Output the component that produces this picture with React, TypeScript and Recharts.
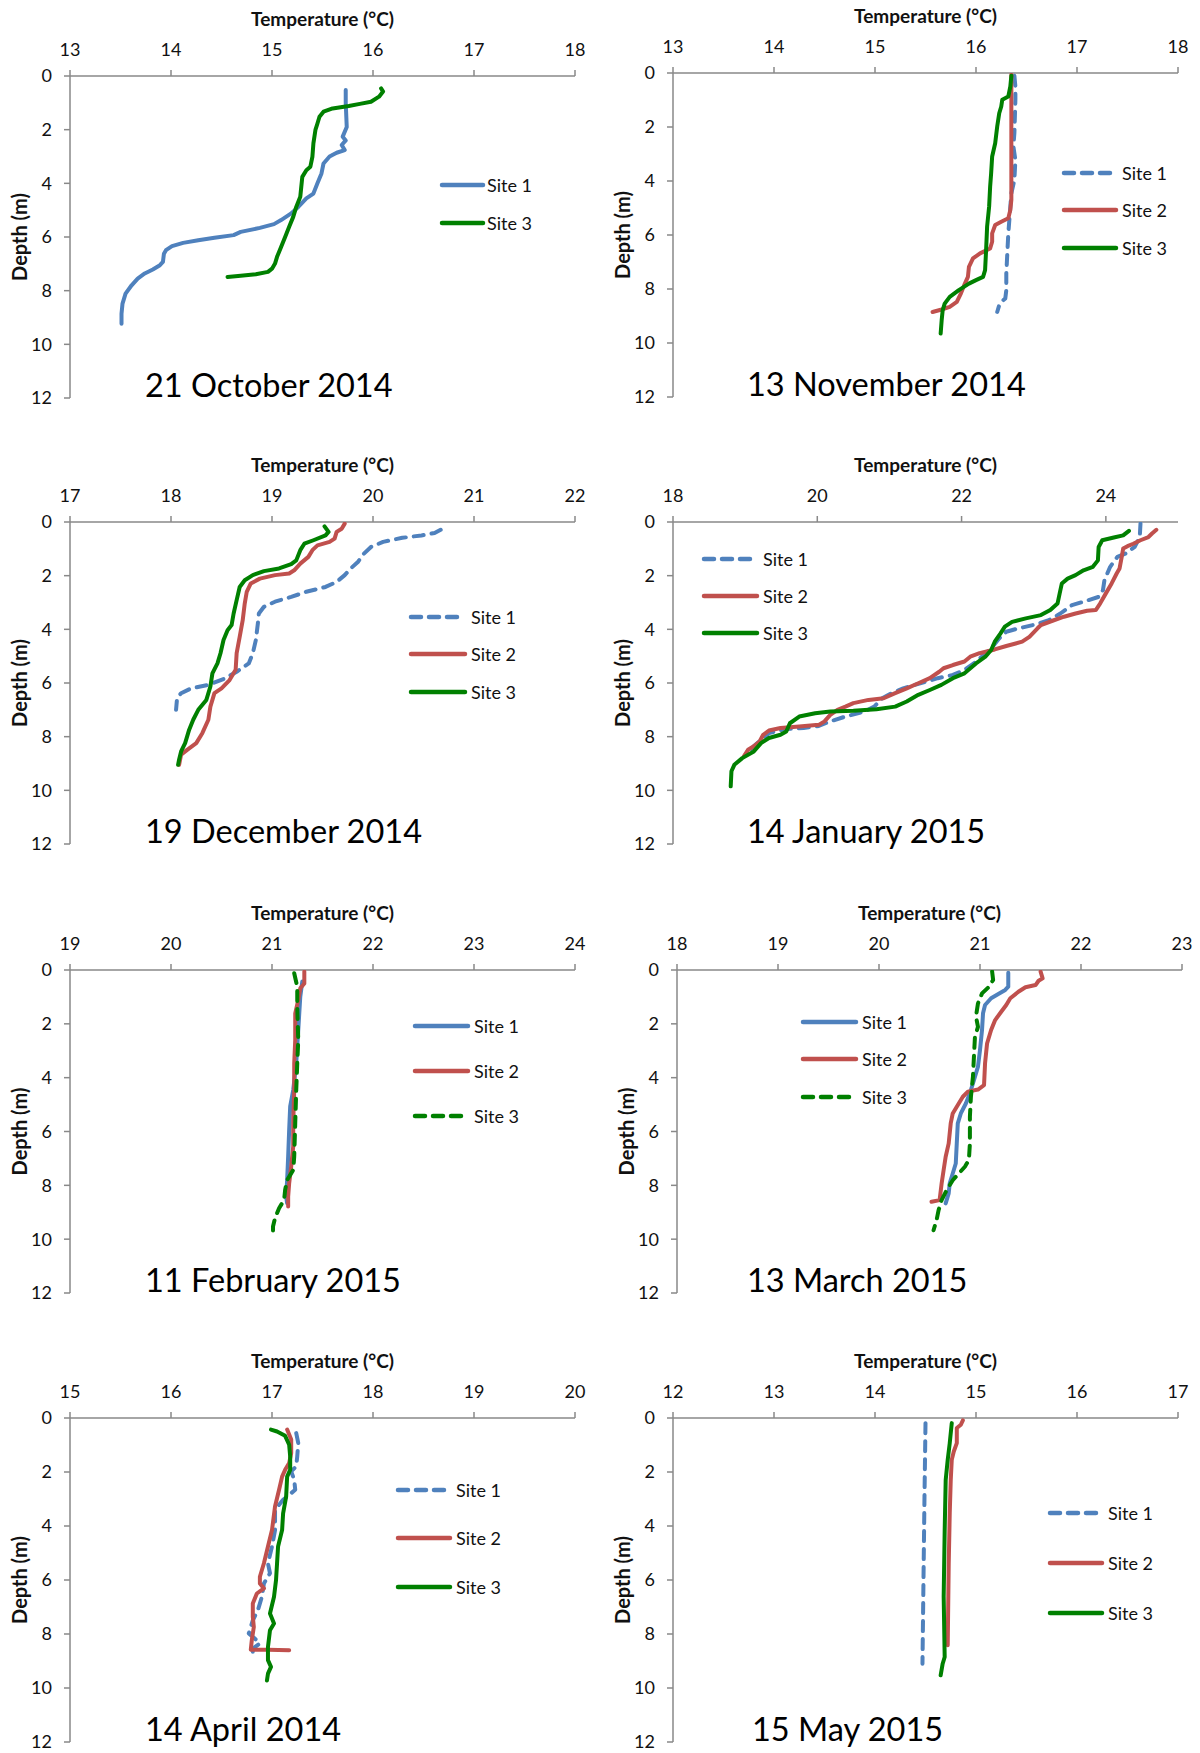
import React from 'react';
import { ScatterChart, Scatter, XAxis, YAxis, Label } from 'recharts';

// each reading is [temperature °C, depth m]
type Reading = [number, number];

const depthTicks = [0, 2, 4, 6, 8, 10, 12];

// 21 October 2014
const octTicks = [13, 14, 15, 16, 17, 18];
const oct21Site1: Reading[] = [
  [15.73, 0.52], [15.73, 1.0], [15.74, 1.9], [15.7, 2.26], [15.73, 2.4], [15.69, 2.57], [15.72, 2.76],
  [15.64, 2.86], [15.57, 3.0], [15.51, 3.26], [15.49, 3.63], [15.45, 4.0], [15.41, 4.38], [15.34, 4.56],
  [15.26, 4.88], [15.19, 5.12], [15.09, 5.37], [15.02, 5.52], [14.88, 5.66], [14.69, 5.81], [14.62, 5.93],
  [14.43, 6.03], [14.27, 6.12], [14.12, 6.22], [14.01, 6.34], [13.95, 6.49], [13.93, 6.62], [13.92, 6.93],
  [13.89, 7.05], [13.82, 7.21], [13.74, 7.36], [13.67, 7.55], [13.61, 7.8], [13.55, 8.11], [13.52, 8.48],
  [13.51, 8.86], [13.51, 9.23],
];
const oct21Site3: Reading[] = [
  [16.08, 0.46], [16.1, 0.58], [16.06, 0.77], [15.98, 0.96], [15.87, 1.04], [15.76, 1.12], [15.6, 1.21],
  [15.51, 1.33], [15.47, 1.52], [15.45, 1.77], [15.43, 2.01], [15.41, 2.51], [15.4, 3.01], [15.38, 3.38],
  [15.34, 3.51], [15.3, 3.76], [15.29, 4.13], [15.28, 4.5], [15.24, 4.88], [15.21, 5.25], [15.17, 5.62],
  [15.13, 6.0], [15.09, 6.37], [15.05, 6.74], [15.03, 6.99], [15.0, 7.18], [14.96, 7.3], [14.84, 7.39],
  [14.69, 7.44], [14.56, 7.49],
];

// 13 November 2014
const novTicks = [13, 14, 15, 16, 17, 18];
const nov13Site1: Reading[] = [
  [16.38, 0.1], [16.39, 0.5], [16.39, 0.99], [16.38, 2.23], [16.37, 2.72], [16.39, 3.22], [16.38, 3.96],
  [16.35, 4.46], [16.34, 4.95], [16.33, 5.45], [16.32, 5.94], [16.31, 6.68], [16.3, 7.43], [16.3, 8.04],
  [16.29, 8.35], [16.25, 8.48], [16.23, 8.6], [16.21, 8.85],
];
const nov13Site2: Reading[] = [
  [16.35, 0.06], [16.35, 0.5], [16.35, 0.99], [16.35, 2.23], [16.35, 3.47], [16.35, 4.7], [16.34, 5.07],
  [16.32, 5.38], [16.25, 5.51], [16.19, 5.63], [16.16, 5.94], [16.16, 6.25], [16.14, 6.5], [16.04, 6.68],
  [15.97, 6.87], [15.93, 7.18], [15.92, 7.55], [15.89, 7.8], [15.85, 8.17], [15.81, 8.48], [15.74, 8.66],
  [15.66, 8.76], [15.57, 8.85],
];
const nov13Site3: Reading[] = [
  [16.35, 0.1], [16.34, 0.5], [16.32, 0.87], [16.26, 0.99], [16.25, 1.24], [16.23, 1.49], [16.21, 1.98],
  [16.19, 2.6], [16.16, 3.09], [16.15, 3.71], [16.14, 4.21], [16.13, 4.95], [16.11, 5.69], [16.1, 6.56],
  [16.09, 7.3], [16.07, 7.55], [16.0, 7.67], [15.93, 7.8], [15.83, 8.04], [15.74, 8.29], [15.69, 8.54],
  [15.67, 8.79], [15.66, 9.16], [15.65, 9.65],
];

// 19 December 2014
const decTicks = [17, 18, 19, 20, 21, 22];
const dec19Site1: Reading[] = [
  [20.67, 0.29], [20.61, 0.41], [20.48, 0.5], [20.29, 0.59], [20.1, 0.74], [19.98, 0.93], [19.91, 1.18],
  [19.85, 1.49], [19.78, 1.73], [19.72, 1.98], [19.64, 2.23], [19.53, 2.42], [19.34, 2.6], [19.19, 2.79],
  [19.03, 2.97], [18.92, 3.16], [18.87, 3.41], [18.86, 3.78], [18.84, 4.4], [18.81, 4.89], [18.77, 5.27],
  [18.65, 5.58], [18.54, 5.82], [18.37, 6.07], [18.2, 6.2], [18.1, 6.38], [18.06, 6.57], [18.05, 7.0],
];
const dec19Site2: Reading[] = [
  [19.72, 0.06], [19.69, 0.25], [19.64, 0.37], [19.62, 0.62], [19.57, 0.74], [19.45, 0.87], [19.4, 1.05],
  [19.36, 1.3], [19.28, 1.55], [19.22, 1.8], [19.17, 1.92], [19.03, 1.98], [18.88, 2.11], [18.79, 2.29],
  [18.75, 2.6], [18.73, 3.04], [18.71, 3.66], [18.68, 4.28], [18.65, 4.89], [18.64, 5.51], [18.58, 5.89],
  [18.5, 6.2], [18.43, 6.38], [18.39, 6.88], [18.37, 7.37], [18.31, 7.87], [18.25, 8.24], [18.16, 8.49],
  [18.1, 8.67], [18.08, 9.05],
];
const dec19Site3: Reading[] = [
  [19.52, 0.16], [19.56, 0.37], [19.53, 0.5], [19.41, 0.68], [19.32, 0.81], [19.28, 1.05], [19.24, 1.43],
  [19.19, 1.57], [19.07, 1.73], [18.92, 1.83], [18.81, 1.98], [18.73, 2.17], [18.68, 2.42], [18.65, 2.91],
  [18.62, 3.41], [18.6, 3.84], [18.56, 4.03], [18.52, 4.4], [18.49, 4.89], [18.46, 5.27], [18.41, 5.64],
  [18.39, 6.13], [18.35, 6.63], [18.27, 7.0], [18.22, 7.37], [18.18, 7.74], [18.14, 8.24], [18.1, 8.55],
  [18.08, 8.86], [18.07, 9.05],
];

// 14 January 2015
const janTicks = [18, 20, 22, 24];
const jan14Site1: Reading[] = [
  [24.48, 0.06], [24.47, 0.56], [24.4, 0.93], [24.27, 1.18], [24.16, 1.3], [24.06, 1.67], [23.98, 2.17],
  [23.96, 2.54], [23.9, 2.79], [23.69, 2.97], [23.53, 3.1], [23.37, 3.41], [23.21, 3.66], [22.99, 3.84],
  [22.78, 3.97], [22.62, 4.09], [22.52, 4.34], [22.41, 4.71], [22.28, 5.02], [22.17, 5.27], [22.04, 5.51],
  [21.88, 5.7], [21.67, 5.82], [21.51, 5.95], [21.35, 6.07], [21.19, 6.2], [21.03, 6.38], [20.9, 6.57],
  [20.79, 6.88], [20.66, 7.06], [20.39, 7.25], [20.18, 7.43], [20.02, 7.6], [19.81, 7.68], [19.54, 7.72],
  [19.33, 7.87], [19.22, 8.12], [19.12, 8.36], [19.04, 8.61],
];
const jan14Site2: Reading[] = [
  [24.7, 0.29], [24.64, 0.43], [24.59, 0.56], [24.48, 0.68], [24.38, 0.81], [24.3, 0.9], [24.24, 0.99],
  [24.22, 1.3], [24.19, 1.73], [24.15, 1.92], [24.08, 2.29], [24.0, 2.66], [23.92, 3.04], [23.86, 3.28],
  [23.74, 3.31], [23.58, 3.41], [23.42, 3.53], [23.26, 3.68], [23.1, 3.84], [23.05, 3.97], [22.94, 4.28],
  [22.84, 4.46], [22.62, 4.62], [22.46, 4.75], [22.25, 4.89], [22.12, 5.02], [22.04, 5.2], [21.88, 5.33],
  [21.75, 5.45], [21.69, 5.58], [21.56, 5.82], [21.4, 6.01], [21.24, 6.2], [21.08, 6.38], [20.92, 6.57],
  [20.71, 6.63], [20.5, 6.75], [20.39, 6.88], [20.28, 7.0], [20.18, 7.19], [20.1, 7.43], [20.02, 7.56],
  [19.75, 7.62], [19.49, 7.68], [19.33, 7.77], [19.25, 7.93], [19.2, 8.18], [19.12, 8.36], [19.04, 8.49],
  [18.98, 8.74],
];
const jan14Site3: Reading[] = [
  [24.32, 0.33], [24.24, 0.5], [24.11, 0.58], [23.95, 0.68], [23.9, 0.93], [23.89, 1.43], [23.82, 1.67],
  [23.69, 1.8], [23.58, 1.98], [23.47, 2.11], [23.39, 2.29], [23.36, 2.66], [23.33, 3.04], [23.23, 3.28],
  [23.1, 3.47], [22.89, 3.59], [22.7, 3.72], [22.6, 3.9], [22.54, 4.15], [22.46, 4.46], [22.41, 4.77],
  [22.33, 5.02], [22.2, 5.27], [22.04, 5.64], [21.88, 5.82], [21.72, 6.07], [21.56, 6.26], [21.4, 6.44],
  [21.24, 6.69], [21.08, 6.88], [20.82, 6.98], [20.5, 7.03], [20.18, 7.06], [19.97, 7.13], [19.75, 7.25],
  [19.62, 7.5], [19.57, 7.81], [19.49, 7.93], [19.33, 8.05], [19.22, 8.24], [19.12, 8.55], [18.96, 8.8],
  [18.85, 9.05], [18.81, 9.29], [18.8, 9.85],
];

// 11 February 2015
const febTicks = [19, 20, 21, 22, 23, 24];
const feb11Site1: Reading[] = [
  [21.3, 0.43], [21.28, 0.99], [21.26, 2.23], [21.24, 3.47], [21.21, 4.46], [21.18, 5.07], [21.17, 5.94],
  [21.16, 6.93], [21.15, 7.8], [21.14, 8.42], [21.15, 8.66],
];
const feb11Site2: Reading[] = [
  [21.32, 0.06], [21.32, 0.5], [21.28, 0.68], [21.26, 1.11], [21.23, 1.61], [21.23, 2.6], [21.22, 3.47],
  [21.22, 4.46], [21.21, 5.69], [21.21, 6.56], [21.19, 7.3], [21.17, 7.92], [21.16, 8.42], [21.16, 8.79],
];
const feb11Site3: Reading[] = [
  [21.22, 0.12], [21.25, 0.62], [21.25, 1.36], [21.26, 2.6], [21.25, 3.47], [21.24, 4.46], [21.23, 5.69],
  [21.22, 6.93], [21.21, 7.43], [21.15, 7.8], [21.13, 8.17], [21.12, 8.54], [21.07, 8.85], [21.03, 9.22],
  [21.01, 9.53], [21.01, 9.9],
];

// 13 March 2015
const marTicks = [18, 19, 20, 21, 22, 23];
const mar13Site1: Reading[] = [
  [21.28, 0.1], [21.28, 0.62], [21.25, 0.74], [21.19, 0.87], [21.11, 1.05], [21.05, 1.3], [21.03, 1.61],
  [21.02, 2.23], [21.0, 2.97], [20.98, 3.59], [20.94, 4.09], [20.9, 4.58], [20.86, 4.96], [20.81, 5.33],
  [20.78, 5.7], [20.77, 6.44], [20.76, 7.19], [20.73, 7.56], [20.7, 7.93], [20.69, 8.3], [20.66, 8.67],
];
const mar13Site2: Reading[] = [
  [21.6, 0.06], [21.62, 0.31], [21.58, 0.4], [21.55, 0.56], [21.45, 0.64], [21.38, 0.81], [21.3, 1.05],
  [21.26, 1.3], [21.21, 1.55], [21.15, 1.86], [21.11, 2.23], [21.07, 2.73], [21.05, 3.47], [21.04, 4.28],
  [20.98, 4.44], [20.88, 4.52], [20.83, 4.71], [20.77, 5.08], [20.73, 5.33], [20.71, 5.7], [20.69, 6.44],
  [20.66, 6.94], [20.64, 7.43], [20.62, 7.93], [20.6, 8.55], [20.52, 8.61],
];
const mar13Site3: Reading[] = [
  [21.12, 0.06], [21.13, 0.37], [21.09, 0.62], [21.02, 0.87], [20.98, 1.24], [20.96, 1.73], [20.98, 2.11],
  [20.95, 2.48], [20.94, 3.22], [20.93, 3.97], [20.91, 4.71], [20.9, 5.45], [20.9, 6.44], [20.89, 7.06],
  [20.85, 7.31], [20.79, 7.56], [20.73, 7.81], [20.67, 8.18], [20.62, 8.55], [20.59, 8.92], [20.57, 9.29],
  [20.54, 9.67],
];

// 14 April 2014
const aprTicks = [15, 16, 17, 18, 19, 20];
const apr14Site1: Reading[] = [
  [17.24, 0.56], [17.26, 0.93], [17.25, 1.42], [17.24, 1.79], [17.19, 1.98], [17.22, 2.29], [17.23, 2.66],
  [17.11, 3.03], [17.03, 3.4], [17.03, 4.15], [17.0, 4.76], [16.96, 5.38], [16.98, 5.75], [16.92, 6.13],
  [16.9, 6.62], [16.86, 7.12], [16.81, 7.49], [16.79, 7.74], [16.77, 7.98], [16.83, 8.17], [16.88, 8.35],
  [16.81, 8.54], [16.81, 8.73],
];
const apr14Site2: Reading[] = [
  [17.15, 0.43], [17.19, 0.8], [17.19, 1.3], [17.17, 1.67], [17.13, 1.92], [17.1, 2.17], [17.07, 2.66],
  [17.03, 3.28], [17.0, 4.15], [16.96, 4.76], [16.92, 5.38], [16.88, 5.88], [16.88, 6.13], [16.92, 6.31],
  [16.85, 6.5], [16.81, 6.87], [16.81, 7.36], [16.82, 7.74], [16.8, 8.23], [16.79, 8.58], [16.96, 8.58],
  [17.17, 8.6],
];
const apr14Site3: Reading[] = [
  [16.99, 0.43], [17.05, 0.5], [17.13, 0.66], [17.17, 0.99], [17.18, 1.42], [17.18, 1.92], [17.15, 2.17],
  [17.14, 2.91], [17.11, 3.53], [17.1, 4.15], [17.06, 4.76], [17.05, 5.38], [17.04, 6.0], [17.02, 6.62],
  [16.98, 7.24], [17.02, 7.61], [16.98, 7.86], [16.96, 8.48], [16.96, 8.97], [16.99, 9.22], [16.96, 9.47],
  [16.95, 9.72],
];

// 15 May 2015
const mayTicks = [12, 13, 14, 15, 16, 17];
const may15Site1: Reading[] = [[14.5, 0.19], [14.49, 2.91], [14.48, 6.0], [14.47, 9.1]];
const may15Site2: Reading[] = [
  [14.87, 0.09], [14.85, 0.25], [14.81, 0.37], [14.81, 0.93], [14.78, 1.24], [14.76, 1.55], [14.75, 2.29],
  [14.74, 3.53], [14.73, 5.38], [14.72, 8.42],
];
const may15Site3: Reading[] = [
  [14.76, 0.19], [14.74, 0.93], [14.72, 1.55], [14.7, 2.29], [14.69, 4.15], [14.68, 6.62], [14.69, 8.85],
  [14.67, 9.1], [14.65, 9.53],
];

const FONT = 'Lato, "Open Sans", sans-serif';
const AXIS_GREY = '#898989';
const INK = '#111';

const SITE_COLORS: Record<string, string> = {
  'Site 1': '#4F81BD',
  'Site 2': '#C0504D',
  'Site 3': '#008000',
};

type Trace = { name: string; data: Reading[]; dashed?: boolean };

type Panel = {
  date: string;
  // plot area in page pixels
  left: number;
  top: number;
  width: number;
  height: number;
  domain: [number, number];
  ticks: number[];
  traces: Trace[];
  // legend: line start/end, text x, one y per entry (page pixels)
  key: { x1: number; x2: number; tx: number; ys: number[] };
  dateX: number;
};

const panels: Panel[] = [
  {
    date: '21 October 2014', left: 70, top: 76, width: 505, height: 322,
    domain: [13, 18], ticks: octTicks,
    traces: [{ name: 'Site 1', data: oct21Site1 }, { name: 'Site 3', data: oct21Site3 }],
    key: { x1: 442, x2: 483, tx: 487, ys: [185, 223] }, dateX: 145,
  },
  {
    date: '13 November 2014', left: 673, top: 73, width: 505, height: 324,
    domain: [13, 18], ticks: novTicks,
    traces: [
      { name: 'Site 1', data: nov13Site1, dashed: true },
      { name: 'Site 2', data: nov13Site2 },
      { name: 'Site 3', data: nov13Site3 },
    ],
    key: { x1: 1064, x2: 1116, tx: 1122, ys: [173, 210, 248] }, dateX: 747,
  },
  {
    date: '19 December 2014', left: 70, top: 522, width: 505, height: 322,
    domain: [17, 22], ticks: decTicks,
    traces: [
      { name: 'Site 1', data: dec19Site1, dashed: true },
      { name: 'Site 2', data: dec19Site2 },
      { name: 'Site 3', data: dec19Site3 },
    ],
    key: { x1: 411, x2: 465, tx: 471, ys: [617, 654, 692] }, dateX: 145,
  },
  {
    date: '14 January 2015', left: 673, top: 522, width: 505, height: 322,
    domain: [18, 25], ticks: janTicks,
    traces: [
      { name: 'Site 1', data: jan14Site1, dashed: true },
      { name: 'Site 2', data: jan14Site2 },
      { name: 'Site 3', data: jan14Site3 },
    ],
    key: { x1: 704, x2: 757, tx: 763, ys: [559, 596, 633] }, dateX: 747,
  },
  {
    date: '11 February 2015', left: 70, top: 970, width: 505, height: 323,
    domain: [19, 24], ticks: febTicks,
    traces: [
      { name: 'Site 1', data: feb11Site1 },
      { name: 'Site 2', data: feb11Site2 },
      { name: 'Site 3', data: feb11Site3, dashed: true },
    ],
    key: { x1: 415, x2: 468, tx: 474, ys: [1026, 1071, 1116] }, dateX: 145,
  },
  {
    date: '13 March 2015', left: 677, top: 970, width: 505, height: 323,
    domain: [18, 23], ticks: marTicks,
    traces: [
      { name: 'Site 1', data: mar13Site1 },
      { name: 'Site 2', data: mar13Site2 },
      { name: 'Site 3', data: mar13Site3, dashed: true },
    ],
    key: { x1: 803, x2: 856, tx: 862, ys: [1022, 1059, 1097] }, dateX: 747,
  },
  {
    date: '14 April 2014', left: 70, top: 1418, width: 505, height: 324,
    domain: [15, 20], ticks: aprTicks,
    traces: [
      { name: 'Site 1', data: apr14Site1, dashed: true },
      { name: 'Site 2', data: apr14Site2 },
      { name: 'Site 3', data: apr14Site3 },
    ],
    key: { x1: 398, x2: 450, tx: 456, ys: [1490, 1538, 1587] }, dateX: 145,
  },
  {
    date: '15 May 2015', left: 673, top: 1418, width: 505, height: 324,
    domain: [12, 17], ticks: mayTicks,
    traces: [
      { name: 'Site 1', data: may15Site1, dashed: true },
      { name: 'Site 2', data: may15Site2 },
      { name: 'Site 3', data: may15Site3 },
    ],
    key: { x1: 1050, x2: 1102, tx: 1108, ys: [1513, 1563, 1613] }, dateX: 752,
  },
];

// room kept left of / above the plot for the axes and their titles
const AXIS_W = 70;
const AXIS_H = 76;
const TOP_PAD = 8;

// round caps stretch each dash, so the gap is kept short
const DASH = '10 8';
const noMarker = () => <g />;

const tickStyle = { fill: INK, fontSize: 18, fontFamily: FONT };
const titleStyle = { fill: INK, fontSize: 19, fontWeight: 700, fontFamily: FONT };

function ProfilePanel({ p }: { p: Panel }) {
  const ox = p.left - AXIS_W;
  const oy = p.top - AXIS_H;
  const w = AXIS_W + p.width + 14;
  const h = AXIS_H + p.height + 30;

  return (
    <div style={{ position: 'absolute', left: ox, top: oy }}>
      <ScatterChart width={w} height={h} margin={{ top: TOP_PAD, right: 14, bottom: 30, left: 0 }}>
        <XAxis
          type="number"
          dataKey="t"
          orientation="top"
          domain={p.domain}
          ticks={p.ticks}
          interval={0}
          allowDataOverflow
          height={AXIS_H - TOP_PAD}
          tickSize={6}
          tickMargin={14}
          stroke={AXIS_GREY}
          strokeWidth={1.5}
          tick={tickStyle}
        >
          <Label value="Temperature (°C)" position="insideTop" offset={5} style={titleStyle} />
        </XAxis>
        <YAxis
          type="number"
          dataKey="d"
          reversed
          domain={[0, 12]}
          ticks={depthTicks}
          interval={0}
          allowDataOverflow
          width={AXIS_W}
          tickSize={6}
          tickMargin={12}
          stroke={AXIS_GREY}
          strokeWidth={1.5}
          tick={tickStyle}
        >
          <Label
            value="Depth (m)"
            angle={-90}
            position="insideLeft"
            offset={20}
            style={{ ...titleStyle, fontSize: 20, textAnchor: 'middle' }}
          />
        </YAxis>
        {p.traces.map((tr) => (
          <Scatter
            key={tr.name}
            name={tr.name}
            data={tr.data.map(([t, d]) => ({ t, d }))}
            fill={SITE_COLORS[tr.name]}
            line={{
              stroke: SITE_COLORS[tr.name],
              strokeWidth: 4,
              strokeDasharray: tr.dashed ? DASH : undefined,
              strokeLinecap: 'round',
              strokeLinejoin: 'round',
            }}
            shape={noMarker}
            isAnimationActive={false}
          />
        ))}
        <g>
          {p.traces.map((tr, i) => (
            <g key={tr.name}>
              <line
                x1={p.key.x1 - ox}
                x2={p.key.x2 - ox}
                y1={p.key.ys[i] - oy}
                y2={p.key.ys[i] - oy}
                stroke={SITE_COLORS[tr.name]}
                strokeWidth={4.5}
                strokeDasharray={tr.dashed ? DASH : undefined}
                strokeLinecap="round"
              />
              <text
                x={p.key.tx - ox}
                y={p.key.ys[i] - oy}
                dominantBaseline="central"
                fontSize={18}
                fontFamily={FONT}
                fill={INK}
              >
                {tr.name}
              </text>
            </g>
          ))}
        </g>
        <text x={p.dateX - ox} y={p.top + p.height - 1 - oy} fontSize={32.5} fontFamily={FONT} fill="#000">
          {p.date}
        </text>
      </ScatterChart>
    </div>
  );
}

export default function App() {
  return (
    <div
      style={{
        position: 'absolute',
        left: 0,
        top: 0,
        width: 1200,
        height: 1753,
        background: '#fff',
        overflow: 'hidden',
      }}
    >
      {panels.map((p) => (
        <ProfilePanel key={p.date} p={p} />
      ))}
    </div>
  );
}
